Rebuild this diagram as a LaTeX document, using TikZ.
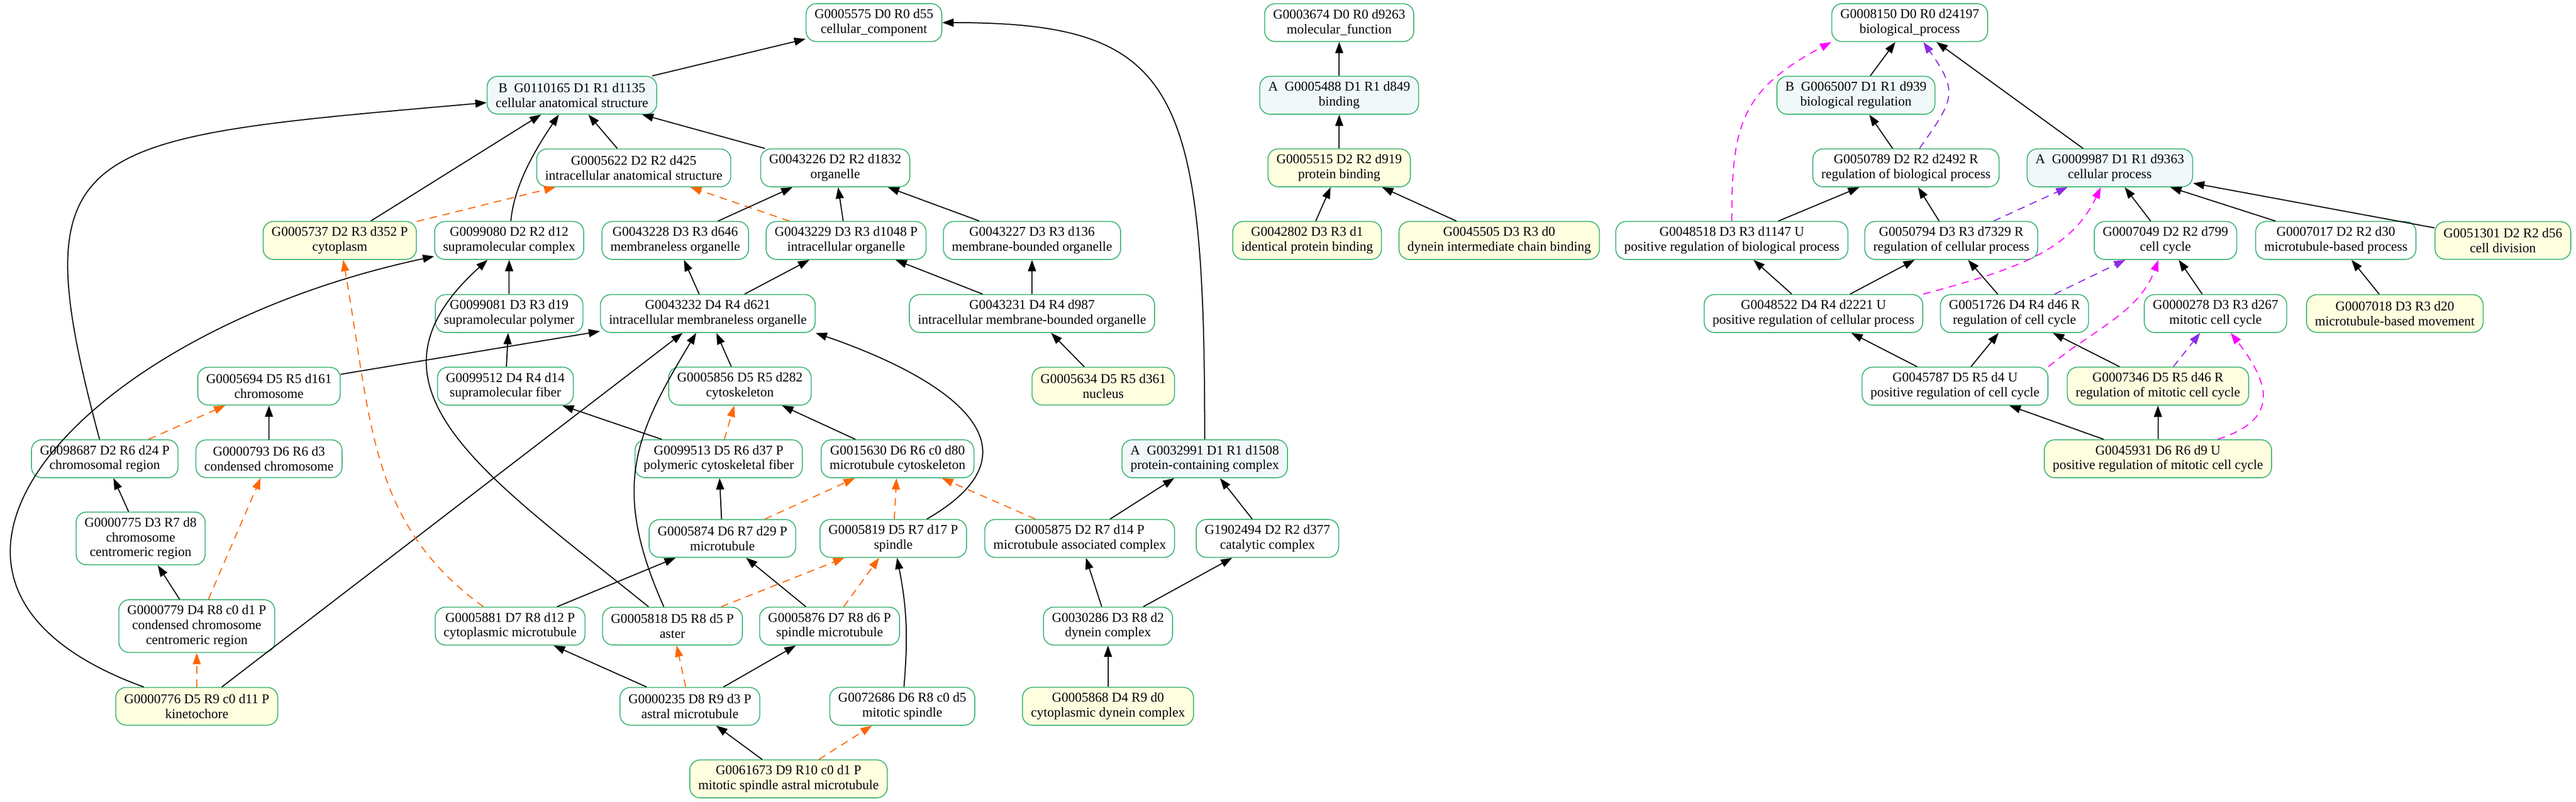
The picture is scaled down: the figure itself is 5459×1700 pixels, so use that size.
\documentclass[tikz,border=0pt]{standalone}
\usepackage{fontspec}
\setmainfont{Liberation Serif}
\usetikzlibrary{arrows.meta}
\definecolor{goline}{HTML}{3CB371}
\definecolor{annyellow}{HTML}{FFFFE0}
\definecolor{rootblue}{HTML}{F0F8FA}
\definecolor{partorange}{HTML}{FF6600}
\definecolor{regpurple}{HTML}{8A2BE2}
\definecolor{posmagenta}{HTML}{FF00FF}
\newcommand{\gofont}{\fontsize{14.2}{15.7}\selectfont}

\begin{document}
\begin{tikzpicture}[x=0.5pt, y=0.5pt, >={Triangle[length=12pt, width=8.5pt]}, line width=1.1pt,
        goterm/.style={draw=goline, line width=1pt, rounded corners=11pt, fill=white, align=center,
            inner xsep=9pt, inner ysep=5.8pt, minimum height=40pt, font=\gofont},
        annot/.style={fill=annyellow},
        rootterm/.style={fill=rootblue},
        partof/.style={draw=partorange, dash pattern=on 8pt off 6pt},
        regs/.style={draw=regpurple, dash pattern=on 8pt off 6pt},
        posregs/.style={draw=posmagenta, dash pattern=on 8pt off 6pt}]
        \useasboundingbox (0,0) rectangle (5459,-1700);

        \node[goterm] (cc) at (1852,-48) {G0005575 D0 R0 d55\\cellular\_component};
        \node[goterm, rootterm] (cas) at (1212,-202) {B~~G0110165 D1 R1 d1135\\cellular anatomical structure};
        \node[goterm] (ias) at (1343,-356) {G0005622 D2 R2 d425\\intracellular anatomical structure};
        \node[goterm] (org) at (1770,-356) {G0043226 D2 R2 d1832\\organelle};
        \node[goterm, annot] (cyto) at (720,-510) {G0005737 D2 R3 d352 P\\cytoplasm};
        \node[goterm] (smc) at (1079,-510) {G0099080 D2 R2 d12\\supramolecular complex};
        \node[goterm] (mlo) at (1431,-510) {G0043228 D3 R3 d646\\membraneless organelle};
        \node[goterm] (io) at (1793,-510) {G0043229 D3 R3 d1048 P\\intracellular organelle};
        \node[goterm] (mbo) at (2187,-510) {G0043227 D3 R3 d136\\membrane-bounded organelle};
        \node[goterm] (smp) at (1079,-665) {G0099081 D3 R3 d19\\supramolecular polymer};
        \node[goterm] (imlo) at (1500,-665) {G0043232 D4 R4 d621\\intracellular membraneless organelle};
        \node[goterm] (imbo) at (2187,-665) {G0043231 D4 R4 d987\\intracellular membrane-bounded organelle};
        \node[goterm] (chrom) at (570,-819) {G0005694 D5 R5 d161\\chromosome};
        \node[goterm] (smf) at (1071,-819) {G0099512 D4 R4 d14\\supramolecular fiber};
        \node[goterm] (csk) at (1568,-819) {G0005856 D5 R5 d282\\cytoskeleton};
        \node[goterm, annot] (nuc) at (2338,-819) {G0005634 D5 R5 d361\\nucleus};
        \node[goterm] (chreg) at (222,-973) {G0098687 D2 R6 d24 P\\chromosomal region};
        \node[goterm] (cchr) at (570,-973) {G0000793 D6 R6 d3\\condensed chromosome};
        \node[goterm] (pcf) at (1523,-973) {G0099513 D5 R6 d37 P\\polymeric cytoskeletal fiber};
        \node[goterm] (mtc) at (1902,-973) {G0015630 D6 R6 c0 d80\\microtubule cytoskeleton};
        \node[goterm, rootterm] (pcc) at (2553,-973) {A~~G0032991 D1 R1 d1508\\protein-containing complex};
        \node[goterm] (ccr) at (298,-1142) {G0000775 D3 R7 d8\\chromosome\\centromeric region};
        \node[goterm] (mt) at (1531,-1142) {G0005874 D6 R7 d29 P\\microtubule};
        \node[goterm] (spin) at (1893,-1142) {G0005819 D5 R7 d17 P\\spindle};
        \node[goterm] (mac) at (2288,-1142) {G0005875 D2 R7 d14 P\\microtubule associated complex};
        \node[goterm] (cat) at (2686,-1142) {G1902494 D2 R2 d377\\catalytic complex};
        \node[goterm] (cccr) at (417,-1328) {G0000779 D4 R8 c0 d1 P\\condensed chromosome\\centromeric region};
        \node[goterm] (cmt) at (1081,-1328) {G0005881 D7 R8 d12 P\\cytoplasmic microtubule};
        \node[goterm] (aster) at (1425,-1328) {G0005818 D5 R8 d5 P\\aster};
        \node[goterm] (smt) at (1758,-1328) {G0005876 D7 R8 d6 P\\spindle microtubule};
        \node[goterm] (dyn) at (2348,-1328) {G0030286 D3 R8 d2\\dynein complex};
        \node[goterm, annot] (kin) at (417,-1498) {G0000776 D5 R9 c0 d11 P\\kinetochore};
        \node[goterm] (amt) at (1462,-1498) {G0000235 D8 R9 d3 P\\astral microtubule};
        \node[goterm] (mspin) at (1912,-1498) {G0072686 D6 R8 c0 d5\\mitotic spindle};
        \node[goterm, annot] (cdyn) at (2348,-1498) {G0005868 D4 R9 d0\\cytoplasmic dynein complex};
        \node[goterm, annot] (msamt) at (1671,-1652) {G0061673 D9 R10 c0 d1 P\\mitotic spindle astral microtubule};

        \node[goterm] (mf) at (2838,-48) {G0003674 D0 R0 d9263\\molecular\_function};
        \node[goterm, rootterm] (bind) at (2838,-202) {A~~G0005488 D1 R1 d849\\binding};
        \node[goterm, annot] (pbind) at (2838,-356) {G0005515 D2 R2 d919\\protein binding};
        \node[goterm, annot] (ipb) at (2770,-510) {G0042802 D3 R3 d1\\identical protein binding};
        \node[goterm, annot] (dicb) at (3177,-510) {G0045505 D3 R3 d0\\dynein intermediate chain binding};

        \node[goterm] (bp) at (4047,-48) {G0008150 D0 R0 d24197\\biological\_process};
        \node[goterm, rootterm] (breg) at (3933,-202) {B~~G0065007 D1 R1 d939\\biological regulation};
        \node[goterm] (rbp) at (4039,-356) {G0050789 D2 R2 d2492 R\\regulation of biological process};
        \node[goterm, rootterm] (cp) at (4471,-356) {A~~G0009987 D1 R1 d9363\\cellular process};
        \node[goterm] (prbp) at (3670,-510) {G0048518 D3 R3 d1147 U\\positive regulation of biological process};
        \node[goterm] (rcp) at (4135,-510) {G0050794 D3 R3 d7329 R\\regulation of cellular process};
        \node[goterm] (ccyc) at (4589,-510) {G0007049 D2 R2 d799\\cell cycle};
        \node[goterm] (mbp) at (4950,-510) {G0007017 D2 R2 d30\\microtubule-based process};
        \node[goterm, annot] (cdiv) at (5304,-510) {G0051301 D2 R2 d56\\cell division};
        \node[goterm] (prcp) at (3843,-665) {G0048522 D4 R4 d2221 U\\positive regulation of cellular process};
        \node[goterm] (rcc) at (4269,-665) {G0051726 D4 R4 d46 R\\regulation of cell cycle};
        \node[goterm] (mcc) at (4695,-665) {G0000278 D3 R3 d267\\mitotic cell cycle};
        \node[goterm, annot] (mbm) at (5075,-665) {G0007018 D3 R3 d20\\microtubule-based movement};
        \node[goterm] (prcc) at (4143,-819) {G0045787 D5 R5 d4 U\\positive regulation of cell cycle};
        \node[goterm, annot] (rmcc) at (4573,-819) {G0007346 D5 R5 d46 R\\regulation of mitotic cell cycle};
        \node[goterm, annot] (prmcc) at (4573,-973) {G0045931 D6 R6 d9 U\\positive regulation of mitotic cell cycle};

        \path[->] (cas) edge (cc);
        \path[->] (pcc) edge[out=90, in=0, out distance=375pt, in distance=250pt] (cc);
        \path[->] (ias) edge (cas);
        \path[->] (org) edge (cas);
        \path[->] (cyto) edge (cas);
        \path[->] (smc) edge[out=85, in=236, out distance=40pt, in distance=40pt] (cas);
        \path[->] (chreg) edge[out=105, in=185, out distance=330pt, in distance=440pt] (cas);
        \path[->] (cyto) edge[partof] (ias);
        \path[->] (io) edge[partof] (ias);
        \path[->] (mlo) edge (org);
        \path[->] (io) edge (org);
        \path[->] (mbo) edge (org);
        \path[->] (smp) edge (smc);
        \path[->] (kin) edge[out=160, in=192, out distance=330pt, in distance=380pt] (smc);
        \path[->] (aster) edge[out=141, in=222, out distance=225pt, in distance=200pt] (smc);
        \path[->] (imlo) edge (mlo);
        \path[->] (imlo) edge (io);
        \path[->] (imbo) edge (io);
        \path[->] (imbo) edge (mbo);
        \path[->] (smf) edge (smp);
        \path[->] (chrom) edge (imlo);
        \path[->] (csk) edge (imlo);
        \path[->] (kin) edge (imlo);
        \path[->] (aster) edge[out=114, in=239, out distance=140pt, in distance=125pt] (imlo);
        \path[->] (spin) edge[out=30, in=-19, out distance=150pt, in distance=150pt] (imlo.south east);
        \path[->] (nuc) edge (imbo);
        \path[->] (cchr) edge (chrom);
        \path[->] (chreg) edge[partof] (chrom);
        \path[->] (pcf) edge (smf);
        \path[->] (pcf) edge[partof] (csk);
        \path[->] (mtc) edge (csk);
        \path[->] (ccr) edge (chreg);
        \path[->] (cccr) edge (ccr);
        \path[->] (cccr) edge[partof] (cchr);
        \path[->] (kin) edge[partof] (cccr);
        \path[->] (mt) edge (pcf);
        \path[->] (mt) edge[partof] (mtc);
        \path[->] (spin) edge[partof] (mtc);
        \path[->] (mac) edge[partof] (mtc);
        \path[->] (mac) edge (pcc);
        \path[->] (cat) edge (pcc);
        \path[->] (cmt) edge (mt);
        \path[->] (cmt) edge[partof, out=144, in=-80, out distance=150pt, in distance=175pt] (cyto);
        \path[->] (aster) edge[partof] (spin);
        \path[->] (smt) edge (mt);
        \path[->] (smt) edge[partof] (spin);
        \path[->] (mspin) edge[bend right=8] (spin);
        \path[->] (dyn) edge (mac);
        \path[->] (dyn) edge (cat);
        \path[->] (amt) edge (cmt);
        \path[->] (amt) edge[partof] (aster);
        \path[->] (amt) edge (smt);
        \path[->] (cdyn) edge (dyn);
        \path[->] (msamt) edge (amt);
        \path[->] (msamt) edge[partof] (mspin);

        \path[->] (bind) edge (mf);
        \path[->] (pbind) edge (bind);
        \path[->] (ipb) edge (pbind);
        \path[->] (dicb) edge (pbind);

        \path[->] (breg) edge (bp);
        \path[->] (cp) edge (bp);
        \path[->] (prbp) edge[posregs, out=90, in=208, out distance=100pt, in distance=110pt] (bp.south west);
        \path[->] (rbp) edge[regs, out=55, in=305, out distance=65pt, in distance=65pt] (bp);
        \path[->] (rbp) edge (breg);
        \path[->] (prbp) edge (rbp);
        \path[->] (rcp) edge (rbp);
        \path[->] (rcp) edge[regs] (cp);
        \path[->] (ccyc) edge (cp);
        \path[->] (mbp) edge (cp);
        \path[->] (cdiv) edge (cp);
        \path[->] (prcp) edge (prbp);
        \path[->] (prcp) edge (rcp);
        \path[->] (prcp.north east) edge[posregs, out=15, in=245, out distance=100pt, in distance=75pt] (cp);
        \path[->] (rcc) edge (rcp);
        \path[->] (rcc) edge[regs] (ccyc);
        \path[->] (mcc) edge (ccyc);
        \path[->] (mbm) edge (mbp);
        \path[->] (prcc) edge (prcp);
        \path[->] (prcc) edge (rcc);
        \path[->] (prcc.north east) edge[posregs, out=40, in=250, out distance=60pt, in distance=60pt] (ccyc);
        \path[->] (rmcc) edge (rcc);
        \path[->] (rmcc) edge[regs] (mcc);
        \path[->] (prmcc) edge (prcc);
        \path[->] (prmcc) edge (rmcc);
        \path[->] (prmcc) edge[posregs, out=18, in=308, out distance=60pt, in distance=80pt] (mcc);
\end{tikzpicture}
\end{document}
